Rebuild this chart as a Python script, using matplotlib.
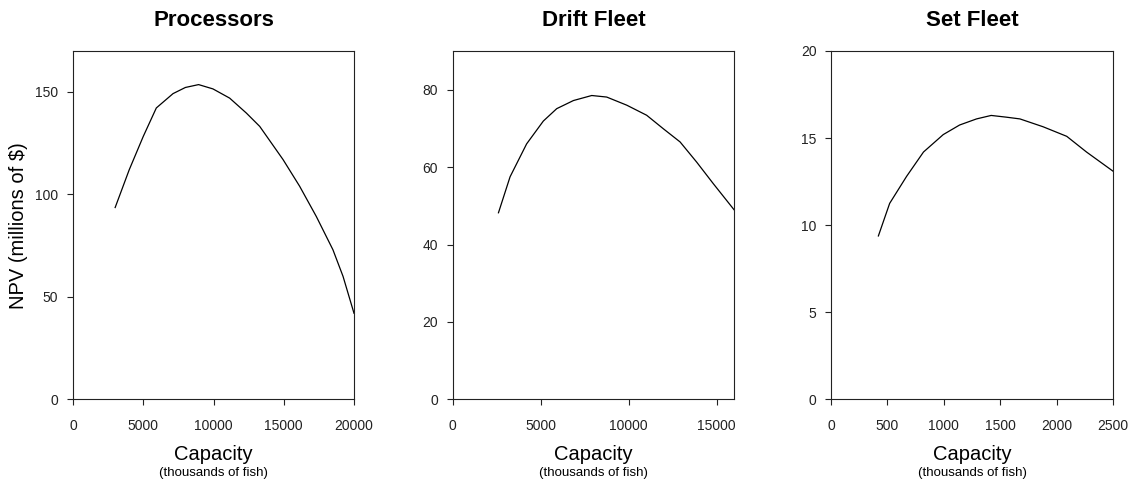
import numpy as np
import matplotlib
matplotlib.use('Agg')
import matplotlib.pyplot as plt

plt.rcParams['font.family'] = ['Liberation Sans', 'DejaVu Sans']

# Processors
proc_x = [3000, 4000, 5000, 5930, 7120, 8000, 8940, 9960, 11150, 12340, 13290, 14950, 16130, 17320, 18500, 19220, 20000]
proc_y = [93.6, 112.0, 128.3, 142.2, 149.2, 152.2, 153.6, 151.5, 147.0, 139.7, 133.2, 117.0, 104.0, 89.2, 73.0, 60.0, 42.0]

# Drift fleet
drift_x = [2600, 3260, 4200, 5150, 5910, 6860, 7900, 8750, 9890, 11020, 11970, 12920, 13860, 14810, 16000]
drift_y = [48.2, 57.5, 66.0, 71.9, 75.1, 77.2, 78.5, 78.1, 76.0, 73.4, 69.9, 66.5, 61.3, 55.7, 48.9]

# Set fleet
set_x = [420, 520, 670, 820, 995, 1140, 1290, 1420, 1555, 1675, 1880, 2090, 2265, 2500]
set_y = [9.38, 11.25, 12.8, 14.2, 15.2, 15.75, 16.1, 16.3, 16.2, 16.1, 15.65, 15.1, 14.2, 13.1]

titles = ['Processors', 'Drift Fleet', 'Set Fleet']
xlims = [20000, 16000, 2500]
ylims = [170, 90, 20]
xticks = [[0, 5000, 10000, 15000, 20000], [0, 5000, 10000, 15000], [0, 500, 1000, 1500, 2000, 2500]]
yticks = [[0, 50, 100, 150], [0, 20, 40, 60, 80], [0, 5, 10, 15, 20]]
series = [(proc_x, proc_y), (drift_x, drift_y), (set_x, set_y)]

W, H = 1130, 483
fig = plt.figure(figsize=(W / 100, H / 100), dpi=100)

# pixel boxes (left, right) of each panel
boxes = [(73, 354), (452.7, 734.3), (831, 1113)]
top, bottom = 51, 399.3

for i, (l, r) in enumerate(boxes):
    ax = fig.add_axes([l / W, 1 - bottom / H, (r - l) / W, (bottom - top) / H])
    x, y = series[i]
    ax.plot(x, y, color='black', lw=0.9)
    ax.set_xlim(0, xlims[i])
    ax.set_ylim(0, ylims[i])
    ax.set_xticks(xticks[i])
    ax.set_yticks(yticks[i])
    ax.tick_params(direction='out', length=4.5, width=0.8, labelsize=10, colors='#222222')
    ax.tick_params(axis='x', pad=10)
    ax.tick_params(axis='y', pad=6)
    for s in ax.spines.values():
        s.set_linewidth(0.8)
        s.set_color('#222222')
    cx = (l + r) / 2 / W
    fig.text(cx, 1 - 20 / H, titles[i], ha='center', va='center', fontsize=16, fontweight='bold')
    fig.text(cx, 1 - 455 / H, 'Capacity', ha='center', va='center', fontsize=14.5)
    fig.text(cx, 1 - 473 / H, '(thousands of fish)', ha='center', va='center', fontsize=9.5)

fig.text(19 / W, 1 - 226 / H, 'NPV (millions of $)', ha='center', va='center', rotation=90, fontsize=14.5)

fig.savefig('out.png', dpi=100)
